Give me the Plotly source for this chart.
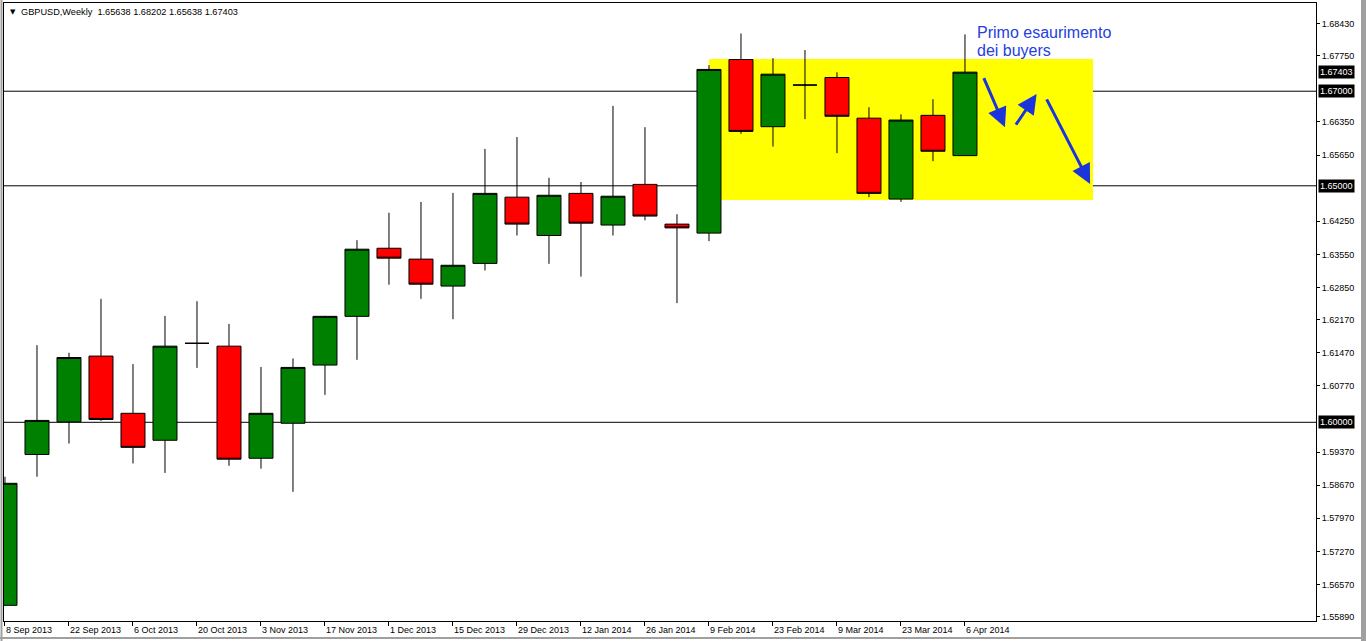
import plotly.graph_objects as go

# ---------------- data ----------------
week_labels = ["8 Sep 2013", "15 Sep 2013", "22 Sep 2013", "29 Sep 2013", "6 Oct 2013", "13 Oct 2013",
               "20 Oct 2013", "27 Oct 2013", "3 Nov 2013", "10 Nov 2013", "17 Nov 2013", "24 Nov 2013",
               "1 Dec 2013", "8 Dec 2013", "15 Dec 2013", "22 Dec 2013", "29 Dec 2013", "5 Jan 2014",
               "12 Jan 2014", "19 Jan 2014", "26 Jan 2014", "2 Feb 2014", "9 Feb 2014", "16 Feb 2014",
               "23 Feb 2014", "2 Mar 2014", "9 Mar 2014", "16 Mar 2014", "23 Mar 2014", "30 Mar 2014",
               "6 Apr 2014"]
opens = [1.5613, 1.5932, 1.6001, 1.6140, 1.6019, 1.5962, 1.6167, 1.6161, 1.5924, 1.5998, 1.6121,
         1.6224, 1.6368, 1.6345, 1.6288, 1.6336, 1.6476, 1.6395, 1.6484, 1.6417, 1.6503, 1.6419,
         1.6400, 1.6767, 1.6625, 1.6713, 1.6729, 1.6643, 1.6472, 1.6649, 1.65638]
highs = [1.5885, 1.6163, 1.6147, 1.6261, 1.6123, 1.6225, 1.6256, 1.6208, 1.6117, 1.6135, 1.6225,
         1.6385, 1.6443, 1.6466, 1.6485, 1.6578, 1.6603, 1.6517, 1.6508, 1.6669, 1.6624, 1.6440,
         1.6755, 1.6822, 1.6770, 1.6787, 1.6740, 1.6666, 1.6651, 1.6683, 1.68202]
lows = [1.5612, 1.5885, 1.5955, 1.6003, 1.5913, 1.5893, 1.6115, 1.5908, 1.5902, 1.5853, 1.6058,
        1.6132, 1.6291, 1.6261, 1.6218, 1.6321, 1.6395, 1.6335, 1.6308, 1.6395, 1.6427, 1.6252,
        1.6383, 1.6610, 1.6583, 1.6641, 1.6569, 1.6476, 1.6466, 1.6552, 1.65638]
closes = [1.5871, 1.6004, 1.6137, 1.6006, 1.5947, 1.6161, 1.6167, 1.5922, 1.6019, 1.6116, 1.6224,
          1.6366, 1.6347, 1.6292, 1.6332, 1.6484, 1.6419, 1.6480, 1.6421, 1.6478, 1.6436, 1.6411,
          1.6746, 1.6615, 1.6736, 1.6713, 1.6647, 1.6484, 1.6639, 1.6573, 1.67403]

date_tick_idx = list(range(0, 31, 2))
date_tick_text = ["8 Sep 2013", "22 Sep 2013", "6 Oct 2013", "20 Oct 2013", "3 Nov 2013",
                  "17 Nov 2013", "1 Dec 2013", "15 Dec 2013", "29 Dec 2013", "12 Jan 2014",
                  "26 Jan 2014", "9 Feb 2014", "23 Feb 2014", "9 Mar 2014", "23 Mar 2014", "6 Apr 2014"]

price_ticks = [1.68430, 1.67750, 1.66350, 1.65650, 1.64250, 1.63550, 1.62850, 1.62170,
               1.61470, 1.60770, 1.59370, 1.58670, 1.57970, 1.57270, 1.56570, 1.55890]
level_lines = [1.67000, 1.65000, 1.60000]
highlight_prices = [1.67403, 1.67000, 1.65000, 1.60000]

zone_x = [22.0, 34.0]
zone_y = [1.6470, 1.6768]

# arrows: (tail_x, tail_y, head_x, head_y)
arrows = [(30.57, 1.6731, 31.25, 1.6624),
          (31.56, 1.6626, 32.24, 1.6694),
          (32.53, 1.6686, 33.91, 1.6504)]

note_lines = ["Primo esaurimento", "dei buyers"]
note_pos = [(30.31, 1.68231), (30.31, 1.67854)]

header = "GBPUSD,Weekly  1.65638 1.68202 1.65638 1.67403"

# ---------------- layout geometry ----------------
W, H = 1366, 641
ML, MR, MT, MB = 4, 50, 3, 20
PW = W - ML - MR
PH = H - MT - MB
x_range = [-0.031, 40.97]
y_range = [1.55799, 1.68865]

def px_x(px):
    return (px - ML) / PW

def px_y(py):
    return (H - MB - py) / PH

FONT = "Liberation Sans, Arial, sans-serif"
BLUE_ARROW = "#1c34dc"
BLUE_TEXT = "#2440e0"

fig = go.Figure()
fig.add_trace(go.Candlestick(
    x=list(range(len(opens))), open=opens, high=highs, low=lows, close=closes,
    increasing=dict(fillcolor="#008000", line=dict(color="black", width=1)),
    decreasing=dict(fillcolor="#ff0000", line=dict(color="black", width=1)),
    whiskerwidth=0, showlegend=False, hoverinfo="skip",
))

shapes = []
shapes.append(dict(type="rect", xref="x", yref="y", x0=zone_x[0], x1=zone_x[1],
                   y0=zone_y[0], y1=zone_y[1], fillcolor="#ffff00", line=dict(width=0),
                   layer="below"))
for lv in level_lines:
    shapes.append(dict(type="line", xref="paper", yref="y", x0=0, x1=1, y0=lv, y1=lv,
                       line=dict(color="black", width=1), layer="below"))
# outer window border pieces
shapes.append(dict(type="rect", xref="paper", yref="paper", x0=px_x(1361), x1=px_x(1367),
                   y0=px_y(642), y1=px_y(-1), fillcolor="#a0a0a0", line=dict(width=0)))
shapes.append(dict(type="line", xref="paper", yref="paper", x0=px_x(0), x1=px_x(1361),
                   y0=px_y(638), y1=px_y(638), line=dict(color="#a0a0a0", width=2)))
shapes.append(dict(type="line", xref="paper", yref="paper", x0=px_x(1.5), x1=px_x(1.5),
                   y0=px_y(641), y1=px_y(0), line=dict(color="#a0a0a0", width=2)))

annotations = []
for (tx, ty, hx, hy) in arrows:
    annotations.append(dict(x=hx, y=hy, ax=tx, ay=ty, xref="x", yref="y", axref="x", ayref="y",
                            showarrow=True, arrowhead=2, arrowsize=1.3, arrowwidth=3,
                            arrowcolor=BLUE_ARROW, text=""))
for txt, (nx, ny) in zip(note_lines, note_pos):
    annotations.append(dict(x=nx, y=ny, xref="x", yref="y", text=txt, showarrow=False,
                            xanchor="left", yanchor="middle",
                            font=dict(family=FONT, size=16, color=BLUE_TEXT)))
for hp in highlight_prices:
    annotations.append(dict(x=px_x(1318), y=hp, xref="paper", yref="y", text=f"{hp:.5f}",
                            showarrow=False, xanchor="left", yanchor="middle",
                            bgcolor="black", borderpad=1,
                            font=dict(family=FONT, size=9, color="white")))
annotations.append(dict(x=px_x(8), y=px_y(12), xref="paper", yref="paper", text="▼",
                        showarrow=False, xanchor="left", yanchor="middle",
                        font=dict(family="DejaVu Sans", size=7, color="black")))
annotations.append(dict(x=px_x(19), y=px_y(12), xref="paper", yref="paper", text=header,
                        showarrow=False, xanchor="left", yanchor="middle",
                        font=dict(family=FONT, size=9.2, color="black")))

fig.update_layout(
    width=W, height=H, margin=dict(l=ML, r=MR, t=MT, b=MB, autoexpand=False),
    paper_bgcolor="white", plot_bgcolor="white",
    boxgap=0.25, boxgroupgap=0, showlegend=False,
    shapes=shapes, annotations=annotations,
    xaxis=dict(range=x_range, tickmode="array", tickvals=date_tick_idx, ticktext=date_tick_text,
               showgrid=False, zeroline=False, rangeslider=dict(visible=False),
               showline=True, linecolor="black", linewidth=1, mirror=True,
               ticks="outside", ticklen=4, tickcolor="black", automargin=False,
               ticklabelposition="outside right",
               tickfont=dict(family=FONT, size=9, color="black")),
    yaxis=dict(range=y_range, side="right", tickmode="array", tickvals=price_ticks,
               ticktext=[f"{p:.5f}" for p in price_ticks],
               showgrid=False, zeroline=False, automargin=False,
               showline=True, linecolor="black", linewidth=1, mirror=True,
               ticks="outside", ticklen=3, tickcolor="black",
               tickfont=dict(family=FONT, size=9, color="black")),
)

fig.write_html("out.html", config={"displayModeBar": False},
               post_script="document.body.style.margin='0';document.body.style.overflow='hidden';")
